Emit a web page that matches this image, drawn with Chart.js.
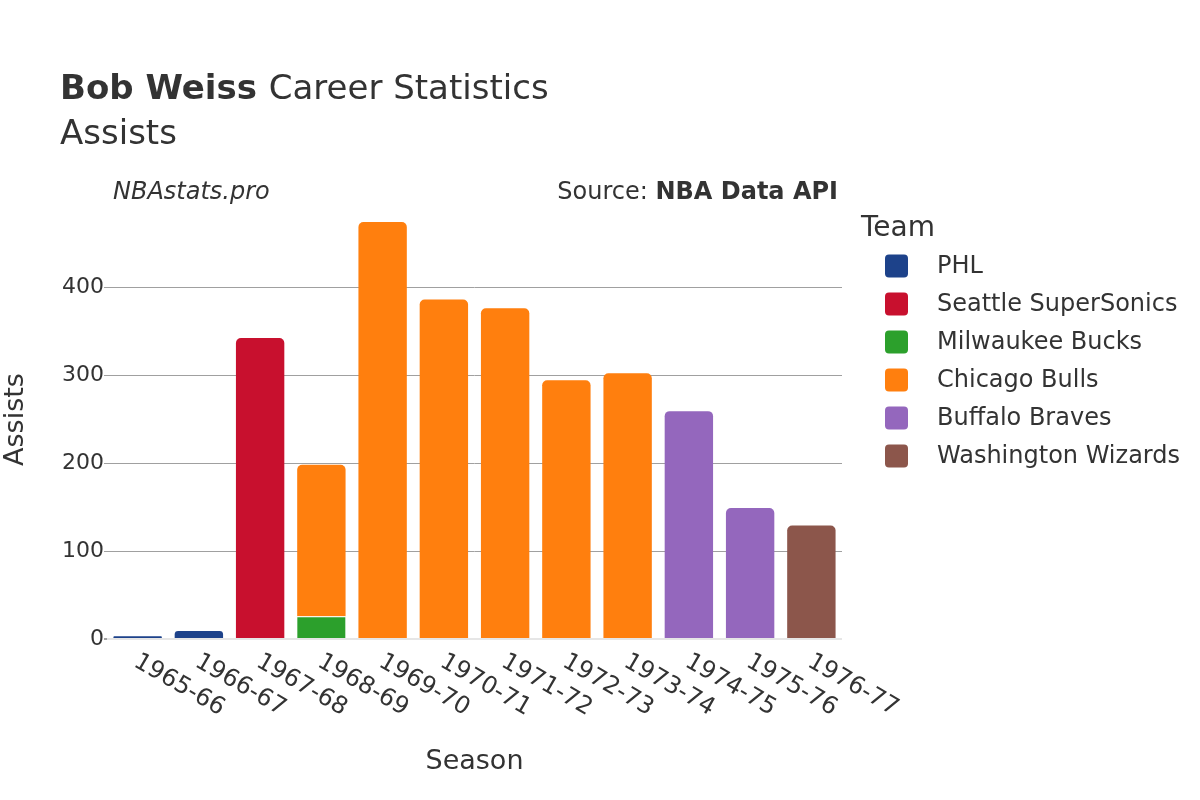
<!DOCTYPE html>
<html>
<head>
<meta charset="utf-8">
<script src="https://cdn.jsdelivr.net/npm/chart.js@4/dist/chart.umd.min.js"></script>
<style>
  html, body { margin: 0; padding: 0; background: #fff; }
  #wrap { width: 1200px; height: 800px; }
</style>
</head>
<body>
<div id="wrap"><canvas id="myChart" width="1200" height="800"></canvas></div>
<script>
// seasons on the x axis
const seasons = [
  "1965-66", "1966-67", "1967-68", "1968-69", "1969-70", "1970-71",
  "1971-72", "1972-73", "1973-74", "1974-75", "1975-76", "1976-77",
];

// assists per team, one slot per season (null = did not play there)
const phl = [3, 9, null, null, null, null, null, null, null, null, null, null];
const seattle = [null, null, 342, null, null, null, null, null, null, null, null, null];
const milwaukee = [null, null, null, 26, null, null, null, null, null, null, null, null];
const chicago = [null, null, null, 172, 474, 386, 376, 294, 302, null, null, null];
const buffalo = [null, null, null, null, null, null, null, null, null, 259, 149, null];
const washington = [null, null, null, null, null, null, null, null, null, null, null, 129];

const teamNames = ["PHL", "Seattle SuperSonics", "Milwaukee Bucks", "Chicago Bulls", "Buffalo Braves", "Washington Wizards"];
const teamColors = ["#1d428a", "#c8102e", "#2ca02c", "#ff7f0e", "#9467bd", "#8c564b"];
const teamValues = [phl, seattle, milwaukee, chicago, buffalo, washington];

const yTicks = [0, 100, 200, 300, 400];
const yMax = 499;

const textColor = "#333333";
const fontFamily = "'DejaVu Sans', sans-serif";

// build datasets
let datasets = [];
for (let i = 0; i < teamNames.length; i++) {
  datasets.push({
    label: teamNames[i],
    data: teamValues[i],
    backgroundColor: teamColors[i],
    borderColor: "#ffffff",
    // thin white line only where a bar has another one stacked on top
    borderWidth: teamNames[i] === "Milwaukee Bucks" ? { top: 1, left: 0, right: 0, bottom: 0 } : 0,
    borderRadius: 5,
    borderSkipped: "start",
  });
}

// title, source line, rotated x labels and legend
const decorations = {
  id: "decorations",
  afterDraw(chart) {
    const ctx = chart.ctx;
    ctx.save();
    ctx.fillStyle = textColor;
    ctx.textBaseline = "alphabetic";
    ctx.textAlign = "left";

    // title
    ctx.font = "bold 34px " + fontFamily;
    ctx.fillText("Bob Weiss", 60, 99);
    let w = ctx.measureText("Bob Weiss ").width;
    ctx.font = "34px " + fontFamily;
    ctx.fillText("Career Statistics", 60 + w, 99);
    ctx.fillText("Assists", 60, 144);

    // site + source
    ctx.font = "italic 24px " + fontFamily;
    ctx.fillText("NBAstats.pro", 113, 199);
    ctx.font = "bold 24px " + fontFamily;
    let boldW = ctx.measureText("NBA Data API").width;
    ctx.textAlign = "right";
    ctx.fillText("NBA Data API", 838, 199);
    ctx.font = "24px " + fontFamily;
    ctx.fillText("Source: ", 838 - boldW, 199);

    // x tick labels, rotated down-right
    const xScale = chart.scales.x;
    ctx.font = "24px " + fontFamily;
    ctx.textAlign = "left";
    ctx.textBaseline = "middle";
    for (let i = 0; i < seasons.length; i++) {
      const x = xScale.getPixelForValue(i);
      ctx.save();
      ctx.translate(x - 2, 660);
      ctx.rotate(Math.PI / 6);
      ctx.fillText(seasons[i], 0, 0);
      ctx.restore();
    }

    // legend
    ctx.textAlign = "left";
    ctx.textBaseline = "alphabetic";
    ctx.font = "28px " + fontFamily;
    ctx.fillText("Team", 861, 236);
    ctx.font = "24px " + fontFamily;
    ctx.textBaseline = "middle";
    for (let i = 0; i < teamNames.length; i++) {
      const cy = 266 + i * 38;
      ctx.fillStyle = teamColors[i];
      ctx.beginPath();
      ctx.roundRect(885, cy - 11.5, 23, 23, 4);
      ctx.fill();
      ctx.fillStyle = textColor;
      ctx.fillText(teamNames[i], 937, cy + 1);
    }
    ctx.restore();
  },
};

const config = {
  type: "bar",
  data: {
    labels: seasons,
    datasets: datasets,
  },
  options: {
    responsive: false,
    animation: false,
    layout: {
      padding: { top: 200, right: 358, left: 0, bottom: 0 },
    },
    plugins: {
      legend: { display: false },
      title: { display: false },
      tooltip: { enabled: false },
    },
    datasets: {
      bar: { categoryPercentage: 1.0, barPercentage: 0.79 },
    },
    scales: {
      x: {
        stacked: true,
        grid: { display: false },
        border: { display: false },
        ticks: { display: false },
        title: {
          display: true,
          text: "Season",
          color: textColor,
          font: { family: fontFamily, size: 27 },
          padding: { top: 0, bottom: 22 },
        },
        afterFit(scale) {
          scale.height = 161;
        },
      },
      y: {
        stacked: true,
        min: 0,
        max: yMax,
        afterBuildTicks(scale) {
          scale.ticks = yTicks.map((v) => ({ value: v }));
        },
        border: { display: false },
        grid: {
          color: (c) => (c.tick && c.tick.value === 0 ? "#e6e6e6" : "#a0a0a0"),
          lineWidth: (c) => (c.tick && c.tick.value === 0 ? 2 : 1),
          drawTicks: true,
          tickLength: 3,
          tickColor: "#a0a0a0",
        },
        ticks: {
          color: textColor,
          padding: 0,
          font: { family: fontFamily, size: 22 },
        },
        title: {
          display: true,
          text: "Assists",
          color: textColor,
          font: { family: fontFamily, size: 27 },
          padding: 0,
        },
        afterFit(scale) {
          scale.width = 107;
        },
      },
    },
  },
  plugins: [decorations],
};

let canvasChart = document.getElementById("myChart");
const myChart = new Chart(canvasChart, config);
</script>
</body>
</html>
